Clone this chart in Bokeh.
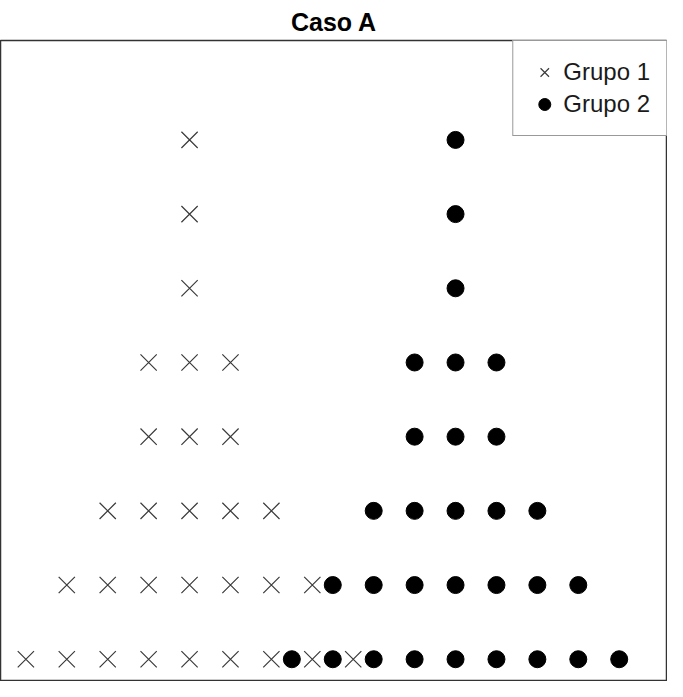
from bokeh.plotting import figure
from bokeh.models import Range1d, Legend, LegendItem, ColumnDataSource
from bokeh.embed import file_html
from bokeh.resources import INLINE

# Data (stacked strip chart)
grupo1_valores = [1, 2, 3, 4, 5, 6, 7, 8, 9]
grupo1_conteos = [1, 2, 3, 5, 8, 5, 3, 2, 1]
grupo2_valores = [7.5, 8.5, 9.5, 10.5, 11.5, 12.5, 13.5, 14.5, 15.5]
grupo2_conteos = [1, 2, 3, 5, 8, 5, 3, 2, 1]
titulo = "Caso A"
etiquetas = ["Grupo 1", "Grupo 2"]


def apilar(valores, conteos):
    xs, ys = [], []
    for v, c in zip(valores, conteos):
        for k in range(1, c + 1):
            xs.append(v)
            ys.append(k)
    return dict(x=xs, y=ys)


src1 = ColumnDataSource(apilar(grupo1_valores, grupo1_conteos))
src2 = ColumnDataSource(apilar(grupo2_valores, grupo2_conteos))

p = figure(width=667, height=681, output_backend="svg", toolbar_location=None,
           x_range=Range1d(0.38, 16.68), y_range=Range1d(0.70, 9.34),
           min_border_left=0, min_border_right=0, min_border_bottom=0,
           min_border_top=0)
p.axis.visible = False
p.grid.visible = False
p.outline_line_color = "#333333"
p.outline_line_width = 1.5
p.background_fill_color = "white"
p.border_fill_color = "white"

p.title.text = titulo
p.title.align = "center"
p.title.text_font = "Liberation Sans"
p.title.text_font_style = "bold"
p.title.text_font_size = "25px"
p.title.text_color = "black"
p.title.standoff = 10

r1 = p.scatter("x", "y", source=src1, marker="x", size=23,
               line_color="#3a3a3a", line_width=1.2)
r2 = p.scatter("x", "y", source=src2, marker="circle", size=17,
               fill_color="black", line_color="black")

legend = Legend(items=[LegendItem(label=etiquetas[0], renderers=[r1]),
                       LegendItem(label=etiquetas[1], renderers=[r2])],
                location="top_right", margin=0, padding=16, spacing=2,
                glyph_width=30, glyph_height=30, label_height=30,
                label_standoff=4,
                label_text_font="Liberation Sans", label_text_font_size="24px",
                label_text_color="#1a1a1a",
                border_line_color="#333333", border_line_width=1.5,
                background_fill_color="white", background_fill_alpha=1.0)
p.add_layout(legend)

open("out.html", "w").write(file_html(p, INLINE))
